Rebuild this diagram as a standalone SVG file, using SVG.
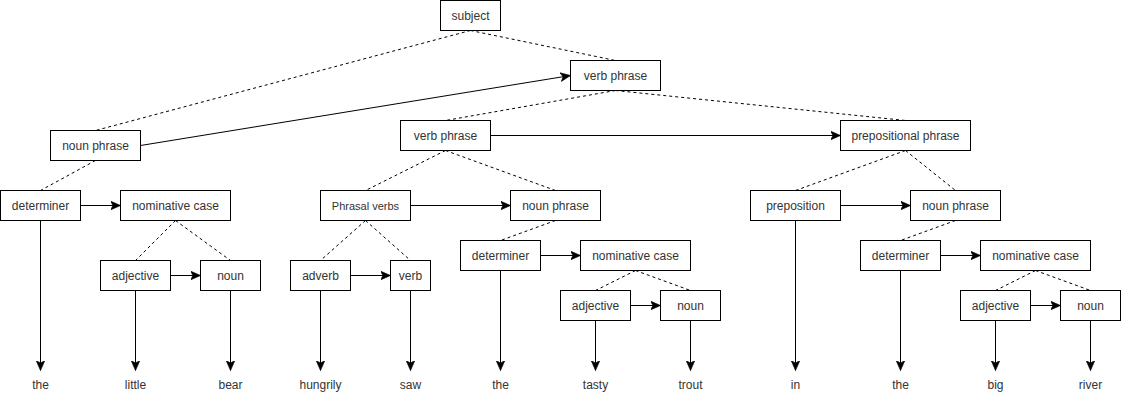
<svg xmlns="http://www.w3.org/2000/svg" width="1121" height="401" viewBox="0 0 1121 401">
<style>
.n rect{fill:#fff;stroke:#000;stroke-width:1}
text{font-family:"Liberation Sans",Arial,sans-serif;font-size:12px;fill:#333;text-anchor:middle}
.d{stroke:#000;stroke-width:1;stroke-dasharray:3 3;fill:none}
.a{stroke:#000;stroke-width:1;fill:none;marker-end:url(#arr)}
</style>
<defs>
<marker id="arr" markerUnits="userSpaceOnUse" markerWidth="10" markerHeight="10" refX="8" refY="4" orient="auto" viewBox="0 0 8 8">
<path d="M0,0.5 L8,4 L0,7.5 L2,4 Z" fill="#000" stroke="#000" stroke-width="0.5"/>
</marker>
</defs>
<g id="connectors">
<path class="d" d="M470.5,30.5 L95.5,130.5"/>
<path class="d" d="M470.5,30.5 L615.5,60.5"/>
<path class="d" d="M615.5,90.5 L445.5,120.5"/>
<path class="d" d="M615.5,90.5 L905.5,120.5"/>
<path class="d" d="M95.5,160.5 L40.5,190.5"/>
<path class="d" d="M445.5,150.5 L365.5,190.5"/>
<path class="d" d="M445.5,150.5 L555.5,190.5"/>
<path class="d" d="M905.5,150.5 L795.5,190.5"/>
<path class="d" d="M905.5,150.5 L955.5,190.5"/>
<path class="d" d="M175.5,220.5 L135.5,260.5"/>
<path class="d" d="M175.5,220.5 L230.5,260.5"/>
<path class="d" d="M365.5,220.5 L320.5,260.5"/>
<path class="d" d="M365.5,220.5 L410.5,260.5"/>
<path class="d" d="M555.5,220.5 L500.5,240.5"/>
<path class="d" d="M635.5,270.5 L595.5,290.5"/>
<path class="d" d="M635.5,270.5 L690.5,290.5"/>
<path class="d" d="M955.5,220.5 L900.5,240.5"/>
<path class="d" d="M1035.5,270.5 L995.5,290.5"/>
<path class="d" d="M1035.5,270.5 L1090.5,290.5"/>
<path class="a" d="M140.5,145.5 L570.5,75.5"/>
<path class="a" d="M490.5,135.5 L840.5,135.5"/>
<path class="a" d="M80.5,205.5 L120.5,205.5"/>
<path class="a" d="M170.5,275.5 L200.5,275.5"/>
<path class="a" d="M410.5,205.5 L510.5,205.5"/>
<path class="a" d="M350.5,275.5 L390.5,275.5"/>
<path class="a" d="M540.5,255.5 L580.5,255.5"/>
<path class="a" d="M630.5,305.5 L660.5,305.5"/>
<path class="a" d="M840.5,205.5 L910.5,205.5"/>
<path class="a" d="M940.5,255.5 L980.5,255.5"/>
<path class="a" d="M1030.5,305.5 L1060.5,305.5"/>
<path class="a" d="M40.5,220.5 L40.5,370.5"/>
<path class="a" d="M135.5,290.5 L135.5,370.5"/>
<path class="a" d="M230.5,290.5 L230.5,370.5"/>
<path class="a" d="M320.5,290.5 L320.5,370.5"/>
<path class="a" d="M410.5,290.5 L410.5,370.5"/>
<path class="a" d="M500.5,270.5 L500.5,370.5"/>
<path class="a" d="M595.5,320.5 L595.5,370.5"/>
<path class="a" d="M690.5,320.5 L690.5,370.5"/>
<path class="a" d="M795.5,220.5 L795.5,370.5"/>
<path class="a" d="M900.5,270.5 L900.5,370.5"/>
<path class="a" d="M995.5,320.5 L995.5,370.5"/>
<path class="a" d="M1090.5,320.5 L1090.5,370.5"/>
</g>
<g id="subject" class="n"><rect x="440.5" y="0.5" width="60" height="30"/><text x="470.5" y="19.5">subject</text></g>
<g id="verb-phrase-top" class="n"><rect x="570.5" y="60.5" width="90" height="30"/><text x="615.5" y="79.5">verb phrase</text></g>
<g id="noun-phrase-subj" class="n"><rect x="50.5" y="130.5" width="90" height="30"/><text x="95.5" y="149.5">noun phrase</text></g>
<g id="verb-phrase-mid" class="n"><rect x="400.5" y="120.5" width="90" height="30"/><text x="445.5" y="139.5">verb phrase</text></g>
<g id="prepositional-phrase" class="n"><rect x="840.5" y="120.5" width="130" height="30"/><text x="905.5" y="139.5">prepositional phrase</text></g>
<g id="determiner-1" class="n"><rect x="0.5" y="190.5" width="80" height="30"/><text x="40.5" y="209.5">determiner</text></g>
<g id="nominative-1" class="n"><rect x="120.5" y="190.5" width="110" height="30"/><text x="175.5" y="209.5">nominative case</text></g>
<g id="adjective-1" class="n"><rect x="100.5" y="260.5" width="70" height="30"/><text x="135.5" y="279.5">adjective</text></g>
<g id="noun-1" class="n"><rect x="200.5" y="260.5" width="60" height="30"/><text x="230.5" y="279.5">noun</text></g>
<g id="phrasal-verbs" class="n"><rect x="320.5" y="190.5" width="90" height="30"/><text x="365.5" y="209.5" style="font-size:11px">Phrasal verbs</text></g>
<g id="adverb" class="n"><rect x="290.5" y="260.5" width="60" height="30"/><text x="320.5" y="279.5">adverb</text></g>
<g id="verb" class="n"><rect x="390.5" y="260.5" width="40" height="30"/><text x="410.5" y="279.5">verb</text></g>
<g id="noun-phrase-obj" class="n"><rect x="510.5" y="190.5" width="90" height="30"/><text x="555.5" y="209.5">noun phrase</text></g>
<g id="determiner-2" class="n"><rect x="460.5" y="240.5" width="80" height="30"/><text x="500.5" y="259.5">determiner</text></g>
<g id="nominative-2" class="n"><rect x="580.5" y="240.5" width="110" height="30"/><text x="635.5" y="259.5">nominative case</text></g>
<g id="adjective-2" class="n"><rect x="560.5" y="290.5" width="70" height="30"/><text x="595.5" y="309.5">adjective</text></g>
<g id="noun-2" class="n"><rect x="660.5" y="290.5" width="60" height="30"/><text x="690.5" y="309.5">noun</text></g>
<g id="preposition" class="n"><rect x="750.5" y="190.5" width="90" height="30"/><text x="795.5" y="209.5">preposition</text></g>
<g id="noun-phrase-pp" class="n"><rect x="910.5" y="190.5" width="90" height="30"/><text x="955.5" y="209.5">noun phrase</text></g>
<g id="determiner-3" class="n"><rect x="860.5" y="240.5" width="80" height="30"/><text x="900.5" y="259.5">determiner</text></g>
<g id="nominative-3" class="n"><rect x="980.5" y="240.5" width="110" height="30"/><text x="1035.5" y="259.5">nominative case</text></g>
<g id="adjective-3" class="n"><rect x="960.5" y="290.5" width="70" height="30"/><text x="995.5" y="309.5">adjective</text></g>
<g id="noun-3" class="n"><rect x="1060.5" y="290.5" width="60" height="30"/><text x="1090.5" y="309.5">noun</text></g>
<g id="words">
<text x="40.5" y="389">the</text>
<text x="135.5" y="389">little</text>
<text x="230.5" y="389">bear</text>
<text x="320.5" y="389">hungrily</text>
<text x="410.5" y="389">saw</text>
<text x="500.5" y="389">the</text>
<text x="595.5" y="389">tasty</text>
<text x="690.5" y="389">trout</text>
<text x="795.5" y="389">in</text>
<text x="900.5" y="389">the</text>
<text x="995.5" y="389">big</text>
<text x="1090.5" y="389">river</text>
</g>
</svg>
